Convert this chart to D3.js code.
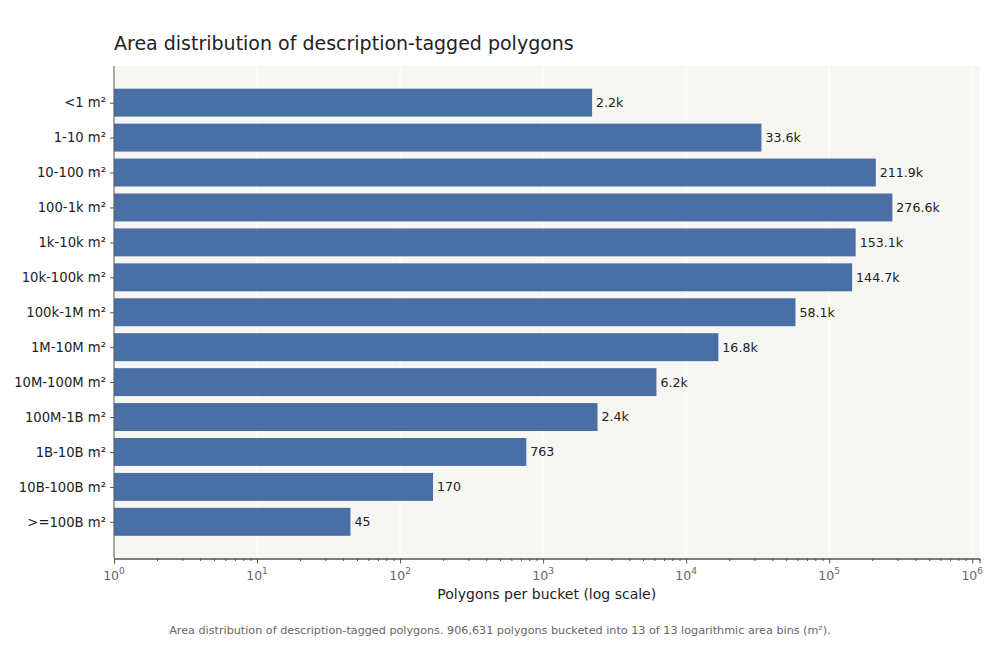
<!DOCTYPE html>
<html lang="en">
  <head>
    <meta charset="UTF-8" />
    <title>Area distribution</title>
    <script src="https://cdn.jsdelivr.net/npm/d3@7/dist/d3.min.js"></script>
    <style>
      html,
      body {
        margin: 0;
        padding: 0;
        background: #fff;
      }
      svg {
        display: block;
        font-family: 'DejaVu Sans', sans-serif;
      }
    </style>
  </head>
  <body>
    <svg width="1000" height="650"></svg>
    <script>
      const buckets = [
        '<1 m²', '1-10 m²', '10-100 m²', '100-1k m²', '1k-10k m²', '10k-100k m²',
        '100k-1M m²', '1M-10M m²', '10M-100M m²', '100M-1B m²', '1B-10B m²',
        '10B-100B m²', '>=100B m²'
      ];
      const counts = [
        2200, 33600, 211900, 276600, 153100, 144700, 58100, 16800, 6200, 2400, 763, 170, 45
      ];
      const decades = [0, 1, 2, 3, 4, 5, 6];

      const plotL = 114, plotR = 979.5, plotT = 66, plotB = 558.5;
      const svg = d3.select('svg');

      const x = d3.scaleLog().domain([1, Math.pow(10, 6.051)]).range([plotL, plotR]);
      // category index -> pixel (matplotlib-like padding of about one band on each side)
      const y = d3.scaleLinear().domain([-1.05, buckets.length + 0.05]).range([plotT, plotB]);
      const barH = y(0.8) - y(0);

      svg.append('rect')
        .attr('x', plotL).attr('y', plotT)
        .attr('width', plotR - plotL).attr('height', plotB - plotT)
        .attr('fill', '#f6f6f2');

      // vertical gridlines at decades
      svg.append('g')
        .selectAll('line')
        .data(decades)
        .enter()
        .append('line')
        .attr('x1', d => x(Math.pow(10, d)))
        .attr('x2', d => x(Math.pow(10, d)))
        .attr('y1', plotT).attr('y2', plotB)
        .attr('stroke', '#ffffff')
        .attr('stroke-width', 1);

      svg.append('g')
        .selectAll('rect')
        .data(counts)
        .enter()
        .append('rect')
        .attr('x', x(1))
        .attr('y', (d, i) => y(i) - barH / 2)
        .attr('width', d => x(d) - x(1))
        .attr('height', barH)
        .attr('fill', '#4a6fa5');

      const fmt = v => (v >= 1000 ? (v / 1000).toFixed(1) + 'k' : String(v));
      svg.append('g')
        .selectAll('text')
        .data(counts)
        .enter()
        .append('text')
        .attr('x', d => x(d) + 4)
        .attr('y', (d, i) => y(i))
        .attr('dy', '0.35em')
        .attr('font-size', 12.6)
        .attr('fill', '#222')
        .text(fmt);

      // x axis with log ticks
      const minor = [];
      decades.forEach(d => {
        for (let k = 2; k <= 9; k++) {
          const v = k * Math.pow(10, d);
          if (v <= x.domain()[1]) minor.push(v);
        }
      });
      const xAxisG = svg.append('g').attr('transform', `translate(0,${plotB})`);
      xAxisG.call(
        d3.axisBottom(x).tickValues(minor).tickSize(2.5).tickFormat('')
      );
      xAxisG.append('g').call(
        d3.axisBottom(x)
          .tickValues(decades.map(d => Math.pow(10, d)))
          .tickSize(5)
          .tickFormat('')
      );
      xAxisG.selectAll('path.domain').attr('stroke', '#555').attr('stroke-width', 1);
      xAxisG.selectAll('line').attr('stroke', '#555');
      xAxisG.select('g').select('path.domain').remove();

      const labs = svg.append('g')
        .selectAll('text')
        .data(decades)
        .enter()
        .append('text')
        .attr('x', d => x(Math.pow(10, d)))
        .attr('y', plotB + 21)
        .attr('text-anchor', 'middle')
        .attr('font-size', 12.5)
        .attr('fill', '#666');
      labs.append('tspan').text('10');
      labs.append('tspan')
        .attr('dy', -6)
        .attr('font-size', 9)
        .text(d => d);

      // y axis
      const yAxisG = svg.append('g').attr('transform', `translate(${plotL},0)`);
      yAxisG.call(
        d3.axisLeft(y)
          .tickValues(d3.range(buckets.length))
          .tickSize(4)
          .tickPadding(4)
          .tickFormat(i => buckets[i])
      );
      yAxisG.select('path.domain').attr('d', `M0,${plotT}V${plotB}`).attr('stroke', '#555');
      yAxisG.selectAll('line').attr('stroke', '#555');
      yAxisG.selectAll('text')
        .attr('font-size', 13.2)
        .attr('fill', '#222')
        .attr('font-family', "'DejaVu Sans', sans-serif");

      svg.append('text')
        .attr('x', plotL)
        .attr('y', 50)
        .attr('font-size', 19)
        .attr('fill', '#222')
        .text('Area distribution of description-tagged polygons');

      svg.append('text')
        .attr('x', (plotL + plotR) / 2)
        .attr('y', 599)
        .attr('text-anchor', 'middle')
        .attr('font-size', 14)
        .attr('fill', '#222')
        .text('Polygons per bucket (log scale)');

      svg.append('text')
        .attr('x', 500)
        .attr('y', 634)
        .attr('text-anchor', 'middle')
        .attr('font-size', 11.2)
        .attr('fill', '#666')
        .text('Area distribution of description-tagged polygons. 906,631 polygons bucketed into 13 of 13 logarithmic area bins (m²).');
    </script>
  </body>
</html>
